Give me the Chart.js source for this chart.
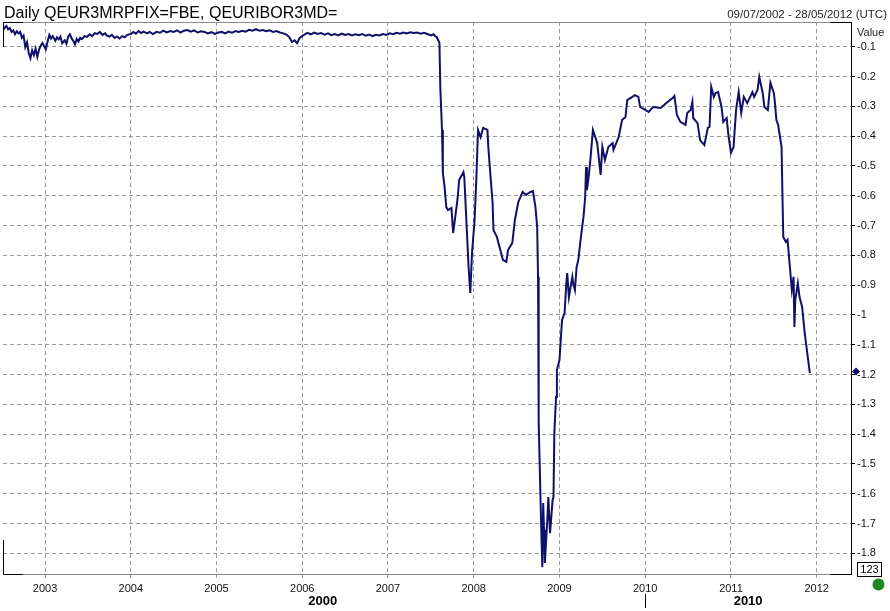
<!DOCTYPE html>
<html>
<head>
<meta charset="utf-8">
<title>Daily QEUR3MRPFIX=FBE, QEURIBOR3MD=</title>
<script src="https://cdn.jsdelivr.net/npm/chart.js@4.4.0/dist/chart.umd.min.js"></script>
<style>
    html, body { margin: 0; padding: 0; background: #fff; }
    #wrap { width: 890px; height: 611px; position: relative; }
</style>
</head>
<body>
<div id="wrap"><canvas id="chart" width="890" height="611"></canvas></div>
<script>
// Chart data (decimal years / spread value)
// 2002 - mid 2007: calm period
const calmDates = [
    2002.51, 2002.53, 2002.55, 2002.57, 2002.59, 2002.61, 2002.63, 2002.65, 2002.67, 2002.69, 2002.71, 2002.73,
    2002.75, 2002.77, 2002.79, 2002.81, 2002.83, 2002.85, 2002.87, 2002.89, 2002.91, 2002.93, 2002.95, 2002.97,
    2002.99, 2003.01, 2003.03, 2003.05, 2003.07, 2003.09, 2003.12, 2003.14, 2003.16, 2003.18, 2003.20, 2003.23,
    2003.25, 2003.27, 2003.29, 2003.31, 2003.33, 2003.35, 2003.37, 2003.39, 2003.41, 2003.43, 2003.46, 2003.49,
    2003.52, 2003.55, 2003.58, 2003.61, 2003.64, 2003.67, 2003.70, 2003.72, 2003.75, 2003.78, 2003.81, 2003.84,
    2003.87, 2003.90, 2003.93, 2003.96, 2004.00, 2004.03, 2004.06, 2004.09, 2004.12, 2004.15, 2004.19, 2004.22,
    2004.26, 2004.30, 2004.34, 2004.38, 2004.42, 2004.46, 2004.50, 2004.54, 2004.58, 2004.62, 2004.66, 2004.70,
    2004.74, 2004.78, 2004.82, 2004.86, 2004.90, 2004.94, 2004.98, 2005.02, 2005.06, 2005.10, 2005.14, 2005.18,
    2005.22, 2005.26, 2005.30, 2005.34, 2005.38, 2005.42, 2005.46, 2005.50, 2005.54, 2005.58, 2005.62, 2005.66,
    2005.70, 2005.74, 2005.78, 2005.82, 2005.85, 2005.88, 2005.91, 2005.94, 2005.97, 2006.00, 2006.03, 2006.06,
    2006.10, 2006.14, 2006.18, 2006.22, 2006.26, 2006.30, 2006.34, 2006.38, 2006.42, 2006.46, 2006.50, 2006.54,
    2006.58, 2006.62, 2006.66, 2006.70, 2006.74, 2006.78, 2006.82, 2006.86, 2006.90, 2006.94, 2006.98, 2007.02,
    2007.06, 2007.10, 2007.14, 2007.18, 2007.22, 2007.26, 2007.30, 2007.34, 2007.38, 2007.42, 2007.46, 2007.50,
    2007.53, 2007.55, 2007.57
];
const calmValues = [
    -0.044, -0.036, -0.030, -0.042, -0.037, -0.050, -0.045, -0.058, -0.048, -0.055, -0.050, -0.070,
    -0.062, -0.101, -0.085, -0.120, -0.138, -0.112, -0.128, -0.106, -0.134, -0.110, -0.096, -0.087,
    -0.098, -0.108, -0.082, -0.060, -0.072, -0.064, -0.080, -0.068, -0.075, -0.066, -0.088, -0.078,
    -0.090, -0.066, -0.058, -0.072, -0.080, -0.092, -0.074, -0.082, -0.070, -0.074, -0.064, -0.067,
    -0.058, -0.064, -0.054, -0.057, -0.050, -0.060, -0.055, -0.062, -0.066, -0.060, -0.070, -0.066,
    -0.072, -0.064, -0.068, -0.060, -0.057, -0.050, -0.056, -0.047, -0.054, -0.049, -0.055, -0.050,
    -0.057, -0.050, -0.053, -0.046, -0.052, -0.047, -0.050, -0.045, -0.052, -0.046, -0.044, -0.049,
    -0.045, -0.052, -0.048, -0.050, -0.055, -0.051, -0.057, -0.052, -0.050, -0.055, -0.049, -0.053,
    -0.047, -0.050, -0.046, -0.049, -0.043, -0.046, -0.041, -0.046, -0.044, -0.048, -0.045, -0.050,
    -0.047, -0.052, -0.055, -0.060, -0.068, -0.084, -0.078, -0.088, -0.070, -0.064, -0.058, -0.053,
    -0.058, -0.052, -0.057, -0.054, -0.059, -0.055, -0.061, -0.057, -0.062, -0.056, -0.060, -0.057,
    -0.062, -0.058, -0.061, -0.057, -0.063, -0.059, -0.064, -0.060, -0.062, -0.057, -0.060, -0.055,
    -0.058, -0.053, -0.056, -0.052, -0.055, -0.051, -0.054, -0.052, -0.056, -0.053, -0.057, -0.062,
    -0.058, -0.064, -0.068
];
// mid 2007 - 2012: crisis period
const crisisDates = [
    2007.60, 2007.61, 2007.63, 2007.64, 2007.66, 2007.68, 2007.70, 2007.74, 2007.76, 2007.78, 2007.81, 2007.83, 2007.88,
    2007.89, 2007.91, 2007.94, 2007.96, 2007.98, 2008.01, 2008.03, 2008.05, 2008.08, 2008.11, 2008.16, 2008.17, 2008.19,
    2008.22, 2008.23, 2008.27, 2008.31, 2008.34, 2008.38, 2008.40, 2008.45, 2008.48, 2008.52, 2008.57, 2008.61, 2008.66,
    2008.69, 2008.72, 2008.74, 2008.75, 2008.755, 2008.76, 2008.78, 2008.79, 2008.80, 2008.81, 2008.82, 2008.83, 2008.86,
    2008.87, 2008.89, 2008.92, 2008.93, 2008.94, 2008.96, 2008.97, 2009.00, 2009.02, 2009.03, 2009.06, 2009.08, 2009.09,
    2009.11, 2009.15, 2009.16, 2009.18, 2009.20, 2009.22, 2009.25, 2009.28, 2009.30, 2009.31, 2009.32, 2009.34, 2009.36,
    2009.39, 2009.44, 2009.48, 2009.50, 2009.53, 2009.57, 2009.62, 2009.63, 2009.69, 2009.73, 2009.77, 2009.79, 2009.85,
    2009.88, 2009.92, 2009.94, 2010.00, 2010.04, 2010.09, 2010.18, 2010.26, 2010.32, 2010.34, 2010.37, 2010.41, 2010.47,
    2010.49, 2010.53, 2010.55, 2010.56, 2010.61, 2010.64, 2010.69, 2010.73, 2010.75, 2010.77, 2010.80, 2010.82, 2010.85,
    2010.89, 2010.91, 2010.95, 2010.97, 2011.00, 2011.03, 2011.06, 2011.09, 2011.12, 2011.15, 2011.19, 2011.25, 2011.27,
    2011.31, 2011.33, 2011.37, 2011.39, 2011.43, 2011.46, 2011.50, 2011.51, 2011.53, 2011.55, 2011.59, 2011.60, 2011.61,
    2011.64, 2011.66, 2011.68, 2011.71, 2011.73, 2011.74, 2011.75, 2011.78, 2011.80, 2011.83, 2011.86, 2011.89, 2011.92
];
const crisisValues = [
    -0.087, -0.235, -0.379, -0.523, -0.570, -0.638, -0.648, -0.641, -0.725, -0.681, -0.614, -0.547, -0.520,
    -0.537, -0.658, -0.839, -0.926, -0.792, -0.681, -0.547, -0.379, -0.403, -0.372, -0.379, -0.436, -0.513,
    -0.624, -0.715, -0.738, -0.782, -0.815, -0.822, -0.782, -0.758, -0.681, -0.621, -0.587, -0.597, -0.587,
    -0.584, -0.638, -0.705, -0.872, -1.161, -1.362, -1.631, -1.745, -1.846, -1.631, -1.721, -1.832, -1.678,
    -1.611, -1.732, -1.621, -1.611, -1.396, -1.275, -1.185, -1.151, -1.060, -1.017, -0.993, -0.893, -0.859,
    -0.940, -0.872, -0.893, -0.916, -0.839, -0.815, -0.738, -0.671, -0.604, -0.503, -0.581, -0.537, -0.480,
    -0.379, -0.423, -0.530, -0.436, -0.480, -0.436, -0.423, -0.446, -0.403, -0.346, -0.336, -0.279, -0.268,
    -0.262, -0.268, -0.302, -0.312, -0.319, -0.302, -0.305, -0.285, -0.272, -0.265, -0.329, -0.352, -0.362,
    -0.322, -0.312, -0.285, -0.339, -0.356, -0.413, -0.430, -0.372, -0.369, -0.235, -0.268, -0.255, -0.252,
    -0.302, -0.352, -0.339, -0.396, -0.456, -0.436, -0.312, -0.252, -0.322, -0.268, -0.289, -0.252, -0.268,
    -0.245, -0.201, -0.255, -0.302, -0.312, -0.221, -0.255, -0.279, -0.346, -0.362, -0.436, -0.591, -0.738,
    -0.755, -0.748, -0.815, -0.916, -0.872, -1.040, -0.950, -0.893, -0.940, -0.973, -1.060, -1.128, -1.195
];

// Axis ticks
const yearTicks = [2003, 2004, 2005, 2006, 2007, 2008, 2009, 2010, 2011, 2012];
const valueTicks = [-0.1, -0.2, -0.3, -0.4, -0.5, -0.6, -0.7, -0.8, -0.9, -1, -1.1, -1.2, -1.3, -1.4, -1.5, -1.6, -1.7, -1.8];
const decadeLabels = ['2000', '2010'];
const decadeLabelAt = [2006.24, 2011.2];
const decadeBreak = 2010;
const lastValue = -1.19;

const lineColor = '#10106a';
const gridColor = '#9a9a9a';
const fontFamily = '"Liberation Sans", Arial, sans-serif';

// Extra decorations: title, date range, frame, last value marker
const decorPlugin = {
    id: 'decor',
    afterDraw(chart) {
        const ctx = chart.ctx;
        const area = chart.chartArea;
        const x = chart.scales.x;
        const y = chart.scales.y;
        ctx.save();

        // title and date range
        ctx.fillStyle = '#000';
        ctx.font = '16px ' + fontFamily;
        ctx.textAlign = 'left';
        ctx.textBaseline = 'alphabetic';
        ctx.fillText('Daily QEUR3MRPFIX=FBE, QEURIBOR3MD=', 4, 18);
        ctx.font = '11.5px ' + fontFamily;
        ctx.fillStyle = '#222';
        ctx.textAlign = 'right';
        ctx.fillText('09/07/2002 - 28/05/2012 (UTC)', 887, 18);
        ctx.font = '11px ' + fontFamily;
        ctx.textAlign = 'left';
        ctx.fillText('Value', area.right + 6, 36);

        // frame: gray top / bottom, black right axis and corners
        ctx.setLineDash([]);
        ctx.lineWidth = 1;
        ctx.strokeStyle = '#8c8c8c';
        ctx.beginPath();
        ctx.moveTo(area.left, area.top + 0.5);
        ctx.lineTo(area.right, area.top + 0.5);
        ctx.moveTo(area.left, area.bottom - 0.5);
        ctx.lineTo(area.right, area.bottom - 0.5);
        ctx.stroke();

        ctx.strokeStyle = '#000';
        ctx.beginPath();
        ctx.moveTo(area.right + 0.5, area.top);
        ctx.lineTo(area.right + 0.5, area.bottom);
        ctx.moveTo(area.left + 0.5, area.top + 25);
        ctx.lineTo(area.left + 0.5, area.top + 0.5);
        ctx.lineTo(area.left + 20, area.top + 0.5);
        ctx.moveTo(area.left + 0.5, area.bottom - 35);
        ctx.lineTo(area.left + 0.5, area.bottom - 0.5);
        ctx.lineTo(area.left + 20, area.bottom - 0.5);
        ctx.moveTo(area.right - 21, area.top + 0.5);
        ctx.lineTo(area.right + 0.5, area.top + 0.5);
        ctx.moveTo(area.right - 21, area.bottom - 0.5);
        ctx.lineTo(area.right + 0.5, area.bottom - 0.5);
        ctx.stroke();

        // last value marker
        const ly = y.getPixelForValue(lastValue);
        const lx = area.right + 5;
        ctx.fillStyle = lineColor;
        ctx.beginPath();
        ctx.moveTo(lx, ly - 4);
        ctx.lineTo(lx + 4, ly);
        ctx.lineTo(lx, ly + 4);
        ctx.lineTo(lx - 4, ly);
        ctx.closePath();
        ctx.fill();

        // "123" box and status dot
        ctx.strokeStyle = '#000';
        ctx.strokeRect(857.5, 562.5, 24, 14);
        ctx.fillStyle = '#000';
        ctx.font = '11px ' + fontFamily;
        ctx.textAlign = 'center';
        ctx.textBaseline = 'middle';
        ctx.fillText('123', 869.5, 570);
        ctx.fillStyle = '#1c8a1c';
        ctx.beginPath();
        ctx.arc(878.5, 584.5, 6, 0, Math.PI * 2);
        ctx.fill();

        // decade labels
        ctx.fillStyle = '#000';
        ctx.font = 'bold 13px ' + fontFamily;
        decadeLabels.forEach((label, i) => {
            ctx.fillText(label, x.getPixelForValue(decadeLabelAt[i]), 601);
        });
        const bx = Math.round(x.getPixelForValue(decadeBreak)) + 0.5;
        ctx.beginPath();
        ctx.moveTo(bx, 594);
        ctx.lineTo(bx, 608);
        ctx.stroke();

        ctx.restore();
    }
};

const dates = calmDates.concat(crisisDates);
const spread = calmValues.concat(crisisValues);
const points = dates.map((d, i) => ({ x: d, y: spread[i] }));

new Chart(document.getElementById('chart'), {
    type: 'line',
    data: {
        datasets: [{
            label: 'QEUR3MRPFIX=FBE, QEURIBOR3MD=',
            data: points,
            borderColor: lineColor,
            borderWidth: 2,
            pointRadius: 0,
            tension: 0,
            fill: false
        }]
    },
    options: {
        responsive: false,
        animation: false,
        layout: { padding: { top: 22, left: 3, right: 0, bottom: 0 } },
        plugins: {
            legend: { display: false },
            tooltip: { enabled: false }
        },
        scales: {
            x: {
                type: 'linear',
                min: 2002.51,
                max: 2012.40,
                afterBuildTicks: scale => { scale.ticks = yearTicks.map(v => ({ value: v })); },
                afterFit: scale => { scale.height = 36; },
                ticks: {
                    color: '#111',
                    font: { family: fontFamily, size: 11 },
                    padding: 2,
                    maxRotation: 0,
                    callback: v => String(v)
                },
                grid: {
                    color: gridColor,
                    tickLength: 5,
                    tickColor: gridColor,
                    tickBorderDash: [3, 2]
                },
                border: { display: false, dash: [4, 3] }
            },
            y: {
                position: 'right',
                min: -1.8725,
                max: -0.0168,
                afterBuildTicks: scale => { scale.ticks = valueTicks.map(v => ({ value: v })); },
                afterFit: scale => { scale.width = 39; },
                ticks: {
                    color: '#111',
                    font: { family: fontFamily, size: 11 },
                    padding: 2,
                    callback: v => String(Number(v.toFixed(1)))
                },
                grid: {
                    color: gridColor,
                    tickLength: 4,
                    tickColor: '#000',
                    tickBorderDash: []
                },
                border: { display: false, dash: [4, 3] }
            }
        }
    },
    plugins: [decorPlugin]
});
</script>
</body>
</html>
